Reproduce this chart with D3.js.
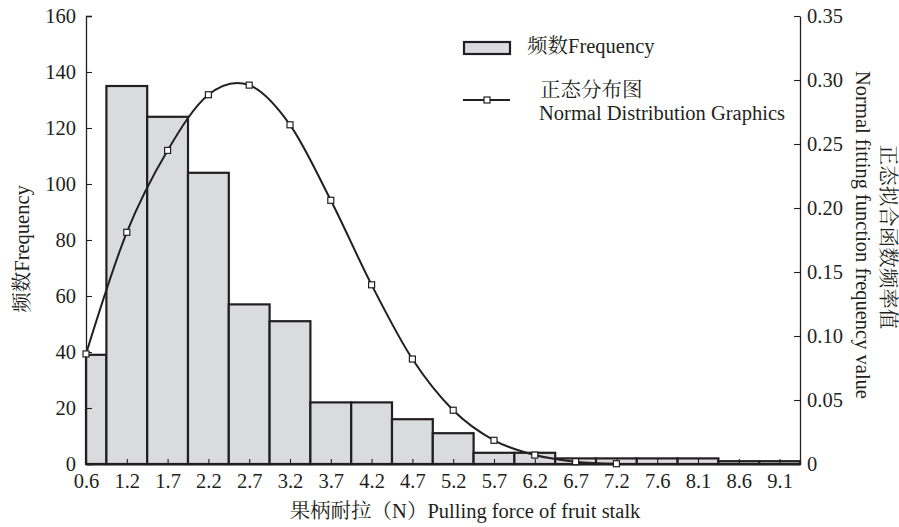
<!DOCTYPE html>
<html>
<head>
<meta charset="utf-8">
<script src="https://cdn.jsdelivr.net/npm/d3@7"></script>
<style>
  body { margin: 0; background: #fff; }
  text { font-family: "Liberation Serif", "Noto Serif CJK SC", "Noto Sans CJK SC", serif; fill: #231f20; }
</style>
</head>
<body>
<svg id="Vis" width="899" height="527"></svg>
<script>

var binLabels = ["0.6","1.2","1.7","2.2","2.7","3.2","3.7","4.2","4.7","5.2","5.7","6.2","6.7","7.2","7.6","8.1","8.6","9.1"];
var frequency = [39,135,124,104,57,51,22,22,16,11,4,4,2,2,2,2,1,1];
// normal fit, only drawn up to 7.2
var normalFit = [0.086,0.181,0.245,0.2885,0.296,0.265,0.206,0.140,0.082,0.042,0.0185,0.007,0.0018,0.0002];
var leftTicks = [0,20,40,60,80,100,120,140,160];
var rightTicks = [0,0.05,0.10,0.15,0.20,0.25,0.30,0.35];

var svg = d3.select("#Vis");
var ink = "#231f20";
var fs = "20.5px";

var x = d3.scaleLinear().domain([0, binLabels.length - 0.5]).range([86, 800]);
var yL = d3.scaleLinear().domain([0, 160]).range([464, 16]);
var yR = d3.scaleLinear().domain([0, 0.35]).range([464, 16]);

// bars
svg.append("g").selectAll("rect")
   .data(frequency)
   .enter().append("rect")
   .attr("x", function(d,i){ return x(Math.max(0, i - 0.5)); })
   .attr("width", function(d,i){ return x(Math.min(binLabels.length - 0.5, i + 0.5)) - x(Math.max(0, i - 0.5)); })
   .attr("y", function(d){ return yL(d); })
   .attr("height", function(d){ return yL(0) - yL(d); })
   .style("fill", "#dadbdc")
   .attr("stroke", ink)
   .attr("stroke-width", 2.2);

// axes
var xAxis = d3.axisBottom(x)
   .tickValues(d3.range(binLabels.length))
   .tickFormat(function(i){ return binLabels[i]; })
   .tickSizeInner(-5).tickSizeOuter(0).tickPadding(9);
var gx = svg.append("g").attr("transform", "translate(0,464)").call(xAxis);

var gl = svg.append("g").attr("transform", "translate(86,0)")
   .call(d3.axisLeft(yL).tickValues(leftTicks).tickSizeInner(-6).tickSizeOuter(-6).tickPadding(10));

var gr = svg.append("g").attr("transform", "translate(800,0)")
   .call(d3.axisRight(yR).tickValues(rightTicks)
      .tickFormat(function(d){ return d == 0 ? "0" : d3.format(".2f")(d); })
      .tickSizeInner(-6).tickSizeOuter(0).tickPadding(7));

[gx, gl, gr].forEach(function(g){
  g.selectAll("path").attr("stroke", ink).attr("stroke-width", 1.3);
  g.selectAll("line").attr("stroke", ink).attr("stroke-width", 1.1);
  g.selectAll("text").style("font-size", fs).attr("fill", ink)
   .style("font-family", "'Liberation Serif', serif");
});
gx.select("path").attr("stroke-width", 2.2);

// normal curve
var line = d3.line()
   .x(function(d,i){ return x(i); })
   .y(function(d){ return yR(d); })
   .curve(d3.curveCardinal.tension(0));

svg.append("path")
   .datum(normalFit)
   .attr("d", line)
   .attr("fill", "none")
   .attr("stroke", ink)
   .attr("stroke-width", 2);

svg.append("g").selectAll("rect")
   .data(normalFit)
   .enter().append("rect")
   .attr("x", function(d,i){ return x(i) - 3; })
   .attr("y", function(d){ return yR(d) - 3; })
   .attr("width", 6).attr("height", 6)
   .style("fill", "#fff")
   .attr("stroke", ink)
   .attr("stroke-width", 1.2);

// legend
var legend = svg.append("g");
legend.append("rect")
   .attr("x", 464).attr("y", 42).attr("width", 46).attr("height", 12)
   .style("fill", "#dadbdc").attr("stroke", ink).attr("stroke-width", 2.2);
legend.append("text").attr("x", 527).attr("y", 53).style("font-size", fs).text("频数Frequency");
legend.append("line")
   .attr("x1", 463).attr("x2", 510).attr("y1", 100).attr("y2", 100)
   .attr("stroke", ink).attr("stroke-width", 2);
legend.append("rect")
   .attr("x", 484).attr("y", 97).attr("width", 6).attr("height", 6)
   .style("fill", "#fff").attr("stroke", ink).attr("stroke-width", 1.2);
legend.append("text").attr("x", 540).attr("y", 97).style("font-size", fs).text("正态分布图");
legend.append("text").attr("x", 539).attr("y", 120).style("font-size", fs).text("Normal Distribution Graphics");

// axis titles
svg.append("text")
   .attr("x", 465).attr("y", 518)
   .attr("text-anchor", "middle")
   .style("font-size", fs)
   .text("果柄耐拉（N）Pulling force of fruit stalk");

svg.append("text")
   .attr("transform", "translate(29,249) rotate(-90)")
   .attr("text-anchor", "middle")
   .style("font-size", fs)
   .text("频数Frequency");

svg.append("text")
   .attr("transform", "translate(856,235) rotate(90)")
   .attr("text-anchor", "middle")
   .style("font-size", fs)
   .text("Normal fitting function frequency value");

svg.append("text")
   .attr("transform", "translate(881,237) rotate(90)")
   .attr("text-anchor", "middle")
   .style("font-size", fs)
   .text("正态拟合函数频率值");

</script>
</body>
</html>
